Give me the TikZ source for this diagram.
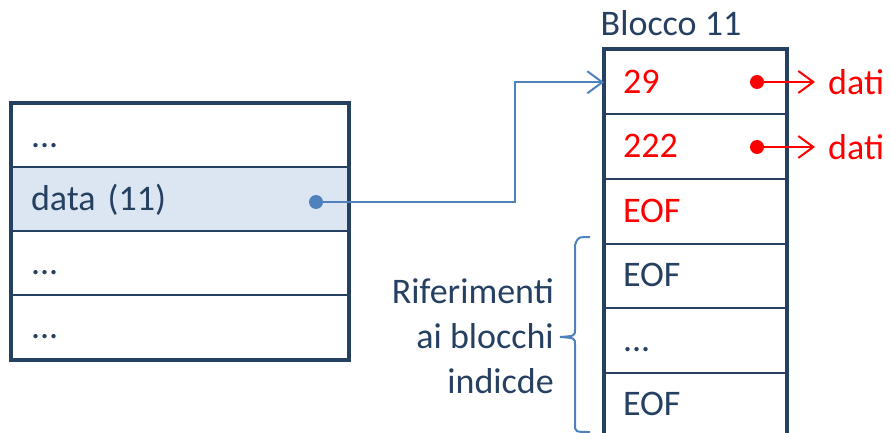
\documentclass[tikz,border=0pt]{standalone}
\usepackage{fontspec}
\setmainfont{Carlito}
\usetikzlibrary{arrows.meta}
\definecolor{navy}{RGB}{38,64,97}
\definecolor{hilite}{RGB}{220,230,242}
\definecolor{linkblue}{RGB}{79,129,189}

\begin{document}
\begin{tikzpicture}[x=1pt,y=-1pt,font=\fontsize{36}{45}\selectfont,
  cellL/.style={draw=navy, line width=2pt, minimum height=64pt, text width=298pt, inner xsep=19pt, inner ysep=0pt, align=left, text height=24pt, text depth=2pt, text=navy},
  cellR/.style={draw=navy, line width=2pt, minimum height=64.5pt, text width=145pt, inner xsep=18pt, inner ysep=0pt, align=left, text height=24pt, text depth=2pt, text=navy},
  frame/.style={draw=navy, line width=4pt},
  bdot/.style={circle, fill=linkblue, inner sep=0pt, minimum size=14pt},
  rdot/.style={circle, fill=red, inner sep=0pt, minimum size=14pt},
  link/.style={draw=linkblue, line width=2pt, -{Straight Barb[length=15pt,width=22pt,line width=2pt]}},
  rlink/.style={draw=red, line width=2pt, -{Straight Barb[length=15pt,width=22pt,line width=2pt]}}]
\useasboundingbox (0,0) rectangle (891,433);

% directory table
\node[cellL] (L1) at (180,136) {...};
\node[cellL, fill=hilite] (L2) at (180,199) {data (11)};
\node[cellL] (L3) at (180,263) {...};
\node[cellL] (L4) at (180,327) {...};
\draw[frame] (L1.north west) rectangle (L4.south east);
\node[bdot] (pdata) at (316,202) {};

% index block
\node (title) at (671,23) {\textcolor{navy}{Blocco 11}};
\node[cellR, text=red] (R1) at (695.5,82.25) {29};
\node[cellR, text=red] (R2) at (695.5,146.75) {222};
\node[cellR, text=red] (R3) at (695.5,211.25) {EOF};
\node[cellR] (R4) at (695.5,275.75) {EOF};
\node[cellR] (R5) at (695.5,340.25) {...};
\node[cellR] (R6) at (695.5,404.75) {EOF};
\draw[frame] (R1.north west) rectangle (R6.south east);

% pointer into the block
\draw[link] (pdata.center) -- ++(199,0) |- (R1.west);

% data pointers
\node[rdot] (d1) at (757,82) {};
\node[rdot] (d2) at (757,147) {};
\node[anchor=west, text=red, inner xsep=13pt] (t1) at (815,82) {dati};
\node[anchor=west, text=red, inner xsep=13pt] (t2) at (815,147) {dati};
\draw[rlink] (d1.center) -- (t1.west);
\draw[rlink] (d2.center) -- (t2.west);

% brace and its label
\node[anchor=east, align=right, text=navy, inner sep=2pt] (lbl) at (556,336) {Riferimenti\\ai blocchi\\indicde};
\draw[linkblue, line width=2pt] (590,237) .. controls (578,237) .. (575,245) -- (575,329) .. controls (575,336) .. (560,337) .. controls (575,338) .. (575,345) -- (575,424) .. controls (575,432) .. (590,432);
\end{tikzpicture}
\end{document}
